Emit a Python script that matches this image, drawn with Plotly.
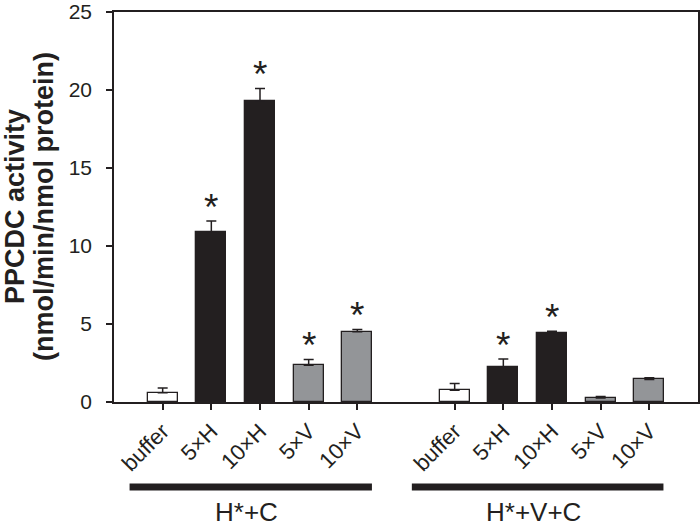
import plotly.graph_objects as go

# ---- data ----
groups = ["H*+C", "H*+V+C"]
categories = ["buffer", "5×H", "10×H", "5×V", "10×V"]
values_hc = [0.6, 10.9, 19.3, 2.35, 4.5]
errors_hc = [0.3, 0.7, 0.8, 0.38, 0.15]
values_hvc = [0.75, 2.25, 4.45, 0.25, 1.45]
errors_hvc = [0.43, 0.5, 0.08, 0.1, 0.1]
signif_hc = [False, True, True, True, True]
signif_hvc = [False, True, True, False, False]
y_ticks = [0, 5, 10, 15, 20, 25]

values = [values_hc, values_hvc]
errors = [errors_hc, errors_hvc]
signif = [signif_hc, signif_hvc]

DARK = "#231f20"
GRAY = "#939598"
FONT = "Arial, Liberation Sans, sans-serif"
line_pad_left = [0.68, 0.88]
line_pad_right = [0.3, 0.29]


def fill_for(cat):
    if cat == "buffer":
        return "white"
    if cat.endswith("H"):
        return DARK
    return GRAY


fig = go.Figure()
tickvals, ticktext = [], []
annotations, shapes = [], []
slot = len(categories) + 1  # one empty slot between groups

for g, gname in enumerate(groups):
    xs = [g * slot + i for i in range(len(categories))]
    tickvals += xs
    ticktext += categories
    fig.add_trace(go.Bar(
        x=xs, y=values[g], width=0.62,
        marker=dict(color=[fill_for(c) for c in categories],
                    line=dict(color=DARK, width=1.3)),
        error_y=dict(type="data", symmetric=False, array=errors[g],
                     arrayminus=[0] * len(categories),
                     color=DARK, thickness=1.5, width=5),
        showlegend=False, hoverinfo="skip",
    ))
    for x, v, e, s in zip(xs, values[g], errors[g], signif[g]):
        if s:
            annotations.append(dict(
                x=x, y=v + e, xref="x", yref="y", text="*", showarrow=False,
                yanchor="bottom", yshift=-9,
                font=dict(family=FONT, size=37, color=DARK)))
    # group bar + label
    x0 = xs[0] - line_pad_left[g]
    x1 = xs[-1] + line_pad_right[g]
    shapes.append(dict(type="line", xref="x", yref="paper", x0=x0, x1=x1,
                       y0=-0.218, y1=-0.218,
                       line=dict(color=DARK, width=7)))
    annotations.append(dict(
        x=(x0 + x1) / 2 - 0.08, y=-0.282, xref="x", yref="paper", text=gname,
        showarrow=False, yanchor="middle", xanchor="center",
        font=dict(family=FONT, size=26, color=DARK)))

for txt, px in [("<b>PPCDC activity</b>", 15), ("<b>(nmol/min/nmol protein)</b>", 44)]:
    annotations.append(dict(
        x=(px - 114) / 584, y=0.5, xref="paper", yref="paper", text=txt,
        textangle=-90, showarrow=False, xanchor="center", yanchor="middle",
        font=dict(family=FONT, size=27, color=DARK)))

fig.update_layout(
    width=700, height=531,
    margin=dict(l=114, r=2, t=12, b=129, autoexpand=False),
    paper_bgcolor="white", plot_bgcolor="white",
    font=dict(family=FONT, color=DARK),
    bargap=0,
    annotations=annotations, shapes=shapes,
    xaxis=dict(range=[-1, 11], tickvals=tickvals, ticktext=ticktext,
               tickangle=-45, ticks="outside", ticklen=6, tickwidth=1.5,
               tickcolor=DARK, showline=True, linecolor=DARK, linewidth=1.5,
               mirror=True, showgrid=False, zeroline=False, automargin=False,
               tickfont=dict(family=FONT, size=22, color=DARK)),
    yaxis=dict(range=[0, 25], tickvals=y_ticks, ticks="outside", ticklen=6,
               tickwidth=1.5, tickcolor=DARK, showline=True, linecolor=DARK,
               linewidth=1.5, mirror=True, showgrid=False, zeroline=False,
               automargin=False, ticklabelstandoff=10,
               tickfont=dict(family=FONT, size=21, color=DARK)),
)

# remove the page's default body margin so the 700x531 figure fills the window
fig.write_html(
    "out.html",
    config={"displayModeBar": False},
    post_script="document.body.style.margin='0';document.body.style.overflow='hidden';",
)
